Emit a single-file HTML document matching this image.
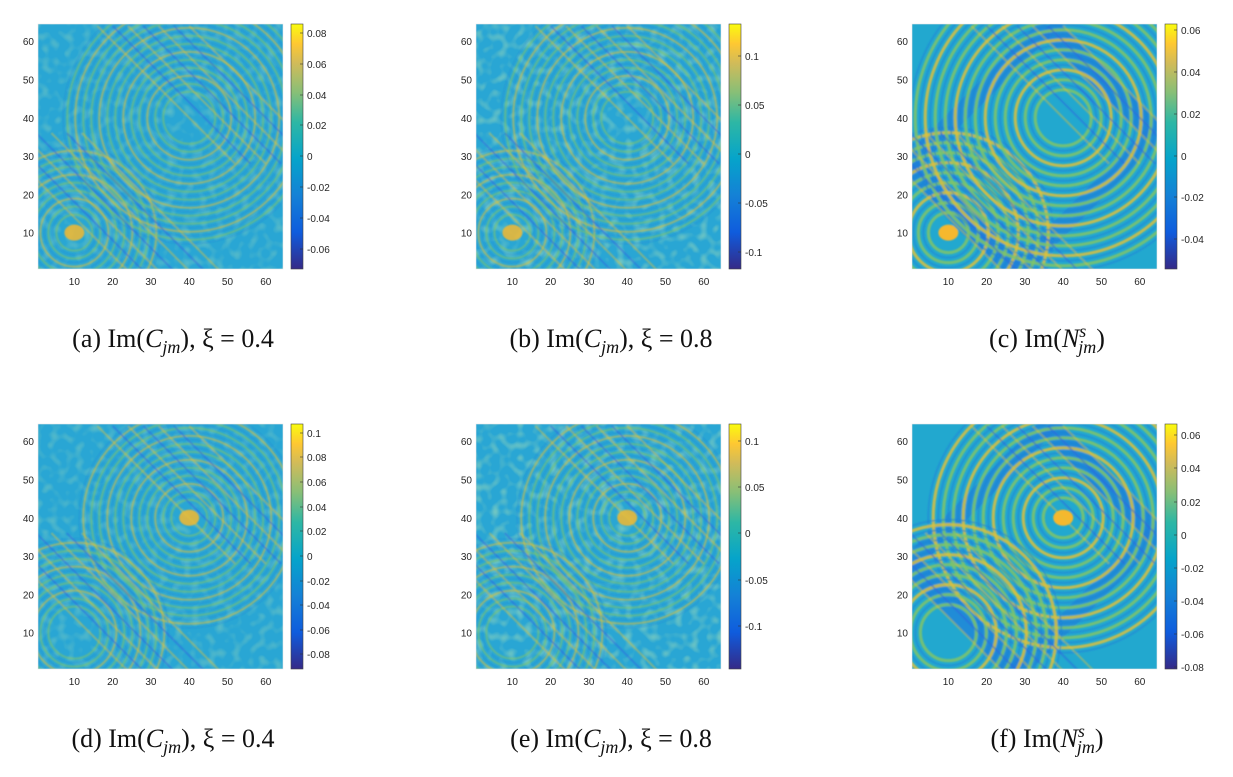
<!DOCTYPE html>
<html><head><meta charset="utf-8"><style>
html,body{margin:0;padding:0;background:#fff;width:1233px;height:777px;overflow:hidden}
svg{display:block;overflow:hidden}
.t{font-family:"Liberation Sans",sans-serif;font-size:10px;fill:#262626}
.cap{font-family:"Liberation Serif",serif;font-size:26px;fill:#111}
</style></head><body>
<svg id="s" width="1233" height="777" viewBox="0 0 1233 777" xmlns="http://www.w3.org/2000/svg">
<defs>
<linearGradient id="par" x1="0" y1="1" x2="0" y2="0">
<stop offset="0" stop-color="#352a87"/><stop offset="0.15" stop-color="#0f5cdd"/>
<stop offset="0.3" stop-color="#1481d6"/><stop offset="0.45" stop-color="#06a4ca"/>
<stop offset="0.6" stop-color="#2eb7a4"/><stop offset="0.72" stop-color="#87bf77"/>
<stop offset="0.84" stop-color="#d1bb59"/><stop offset="0.92" stop-color="#fec832"/>
<stop offset="1" stop-color="#f9fb0e"/></linearGradient>
<filter id="bl"><feGaussianBlur stdDeviation="0.9"/></filter>
<filter id="noise" x="0" y="0" width="100%" height="100%">
<feTurbulence type="fractalNoise" baseFrequency="0.12" numOctaves="1" seed="3"/>
<feColorMatrix values="0 0 0 0 0.45  0 0 0 0 0.78  0 0 0 0 0.45  0 0 0 1.6 -0.75"/>
</filter>
</defs>
</svg>
<script>
var s=document.getElementById('s'),NS='http://www.w3.org/2000/svg';
function el(t,a,p){var e=document.createElementNS(NS,t);for(var k in a)e.setAttribute(k,a[k]);(p||s).appendChild(e);return e;}
function tx(x,y,str,cls,anc){var e=el('text',{x:x,y:y,'class':cls,'text-anchor':anc||'start'});e.textContent=str;return e;}
var cols=[38,476,912],rows=[24,424],W=245,H=245;
var cb=[
 [[0.08,33],[0.06,64],[0.04,95],[0.02,125],[0,156],[-0.02,187],[-0.04,218],[-0.06,249]],
 [[0.1,56],[0.05,105],[0,154],[-0.05,203],[-0.1,252]],
 [[0.06,30],[0.04,72],[0.02,114],[0,156],[-0.02,197],[-0.04,239]],
 [[0.1,433],[0.08,457],[0.06,482],[0.04,507],[0.02,531],[0,556],[-0.02,581],[-0.04,605],[-0.06,630],[-0.08,654]],
 [[0.1,441],[0.05,487],[0,533],[-0.05,580],[-0.1,626]],
 [[0.06,435],[0.04,468],[0.02,502],[0,535],[-0.02,568],[-0.04,601],[-0.06,634],[-0.08,667]]];
var caps=[['(a) ','C','ξ = 0.4'],['(b) ','C','ξ = 0.8'],['(c) ','N',''],['(d) ','C','ξ = 0.4'],['(e) ','C','ξ = 0.8'],['(f) ','N','']];
for(var r=0;r<2;r++)for(var c=0;c<3;c++){
 var i=r*3+c,x0=cols[c],y0=rows[r];
 var px=function(d){return x0+(d-0.5)*W/64},py=function(d){return y0+H-(d-0.5)*H/64};
 var cid='c'+i;var cp=el('clipPath',{id:cid});el('rect',{x:x0,y:y0,width:W,height:H},cp);
 el('rect',{x:x0,y:y0,width:W,height:H,fill:c==2?'#22a8cf':'#29a6d4'});
 var g=el('g',{'clip-path':'url(#'+cid+')'});
 if(c!=2) el('rect',{x:x0,y:y0,width:W,height:H,filter:'url(#noise)',opacity:c==1?0.9:0.6},g);
 var gi=el('g',{filter:'url(#bl)'},g);
 var smooth=(c==2),gap=smooth?10:8,sw=smooth?3.2:2.2,op=smooth?0.85:0.55;
 if(smooth){
  el('line',{x1:px(0),y1:py(28),x2:px(28),y2:py(0),stroke:'#1f78dc','stroke-width':22,opacity:0.6},gi);
  el('line',{x1:px(36),y1:py(64),x2:px(64),y2:py(36),stroke:'#1f78dc','stroke-width':22,opacity:0.6},gi);
  el('line',{x1:px(0),y1:py(28),x2:px(36),y2:py(64),stroke:'#1f78dc','stroke-width':18,opacity:0.5},gi);
  el('line',{x1:px(28),y1:py(0),x2:px(64),y2:py(36),stroke:'#1f78dc','stroke-width':18,opacity:0.5},gi);
 }
 var centers=r==0?[[10,10,1,9],[40,40,0,13]]:[[40,40,1,12],[10,10,0,9]];
 centers.forEach(function(cc){
  var X=px(cc[0]),Y=py(cc[1]);
  for(var k=1;k<=cc[3];k++){var rr=(cc[2]?10:18)+k*gap;
   el('circle',{cx:X,cy:Y,r:rr,fill:'none',stroke:k%3==0?'#d8c040':'#7fc46a','stroke-width':sw,opacity:op},gi);
   el('circle',{cx:X,cy:Y,r:rr+gap/2,fill:'none',stroke:'#1e80d8','stroke-width':sw*0.6,opacity:op*0.6},gi);}
  if(cc[2]){el('ellipse',{cx:X,cy:Y,rx:10,ry:8,fill:'#f5b82e',opacity:smooth?1:0.85},gi);}
 });
 for(var k=-3;k<4;k++){
  var o=k*4;
  el('line',{x1:px(0+o),y1:py(36),x2:px(36+o),y2:py(0),stroke:k%2?'#e0c23a':'#3060e0','stroke-width':2,opacity:0.45},gi);
  el('line',{x1:px(28+o),y1:py(64),x2:px(64+o),y2:py(28),stroke:k%2?'#e0c23a':'#3060e0','stroke-width':2,opacity:0.45},gi);
 }
 el('rect',{x:x0,y:y0,width:W,height:H,fill:'none',stroke:'#e6e6e6','stroke-width':0.6});
 for(var v=10;v<=60;v+=10){
  tx(px(v),y0+H+16,v,'t','middle');
  tx(x0-4,py(v)+4,v,'t','end');
 }
 var cx=x0+253;
 el('rect',{x:cx,y:y0,width:12,height:H,fill:'url(#par)',stroke:'#444','stroke-width':0.6});
 cb[i].forEach(function(t){
  el('line',{x1:cx+9,y1:t[1],x2:cx+12,y2:t[1],stroke:'#333','stroke-width':0.6});
  tx(cx+16,t[1]+4,String(t[0]),'t');
 });
 var cyp=r==0?347:747,cxm=x0+135;
 var te=el('text',{x:cxm,y:cyp,'class':'cap','text-anchor':'middle'});
 var a=caps[i];
 function sp(str,at){var e=el('tspan',at||{},te);e.textContent=str;return e;}
 sp(a[0]+'Im(');sp(a[1],{'font-style':'italic'});
 if(a[1]=='N'){sp('s',{'font-style':'italic','font-size':'18','dy':'-10'});sp('jm',{'font-style':'italic','font-size':'18','dy':'16','dx':'-8'});sp(')',{'dy':'-6'});}
 else{sp('jm',{'font-style':'italic','font-size':'18','dy':'6'});sp('), '+a[2],{'dy':'-6'});}
}
</script>
</body></html>
